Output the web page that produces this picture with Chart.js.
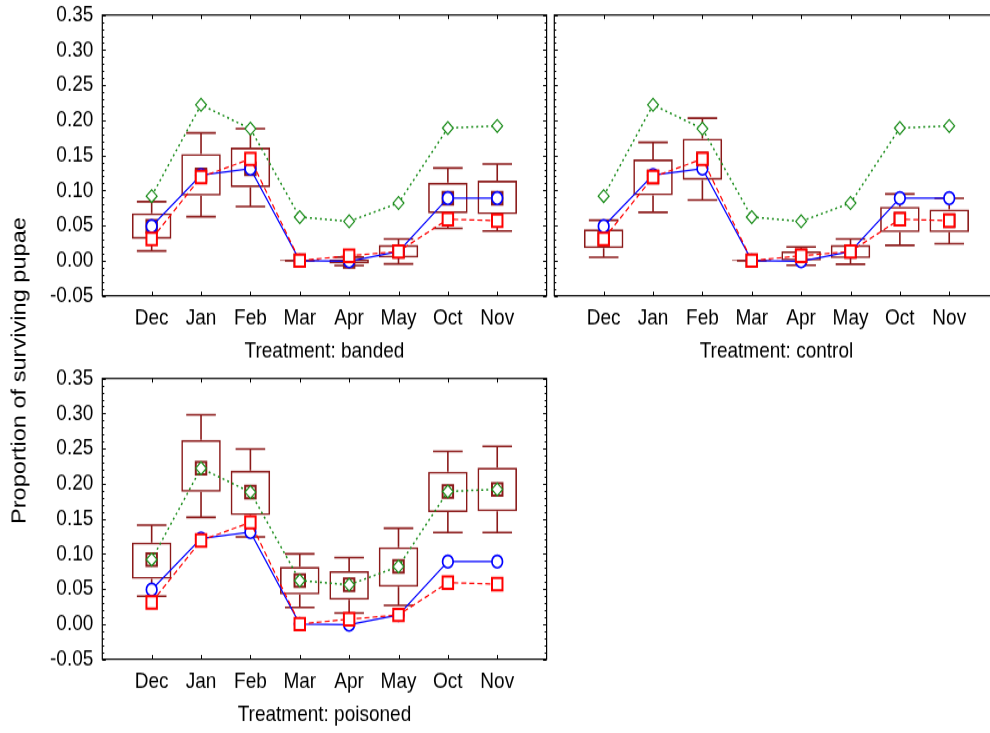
<!DOCTYPE html>
<html>
<head>
<meta charset="utf-8">
<script src="https://cdn.jsdelivr.net/npm/chart.js@4.4.1/dist/chart.umd.min.js"></script>
<style>
  html, body { margin: 0; padding: 0; background: #fff; overflow: hidden; width: 990px; height: 733px; }
  #fig { position: absolute; left: 0; top: 0; width: 990px; height: 621.2px; transform: scaleY(1.18); transform-origin: 0 0; }
  #fig canvas { position: absolute; }
  #ytitle {
    position: absolute; left: 18.5px; top: 313.5px;
    transform: translate(-50%, -50%) rotate(-90deg);
    font: 20px "Liberation Sans", Arial, sans-serif; color: #000; white-space: nowrap;
  }
</style>
</head>
<body>
<div id="fig">
  <canvas id="c1" width="556" height="310" style="left:0px;top:0px"></canvas>
  <canvas id="c2" width="556" height="310" style="left:452px;top:0px"></canvas>
  <canvas id="c3" width="556" height="310" style="left:0px;top:307.9px"></canvas>
  <div id="ytitle">Proportion of surviving pupae</div>
</div>
<script>
// Months sampled
const months = ['Dec', 'Jan', 'Feb', 'Mar', 'Apr', 'May', 'Oct', 'Nov'];

// Mean proportion of surviving pupae per treatment
const bandedMean   = [0.049, 0.122, 0.131, 0.000, -0.001, 0.013, 0.089, 0.089];
const controlMean  = [0.031, 0.119, 0.145, 0.000, 0.007, 0.013, 0.059, 0.057];
const poisonedMean = [0.092, 0.222, 0.188, 0.062, 0.056, 0.082, 0.189, 0.192];

// Banded: box (mean ± SE) and whiskers (mean ± 1.96 SE)
const bandedBoxLow    = [0.031, 0.0925, 0.1045, 0.000, -0.004, 0.0043, 0.0675, 0.066];
const bandedBoxHigh   = [0.0675, 0.152, 0.161, 0.000, 0.002, 0.0223, 0.111, 0.114];
const bandedWhiskLow  = [0.0138, 0.0626, 0.077, 0.000, -0.007, -0.0047, 0.046, 0.0423];
const bandedWhiskHigh = [0.084, 0.182, 0.188, 0.000, 0.005, 0.031, 0.132, 0.1377];

// Control
const controlBoxLow    = [0.0177, 0.093, 0.115, 0.000, 0.000, 0.0034, 0.0404, 0.0404];
const controlBoxHigh   = [0.0447, 0.1443, 0.174, 0.000, 0.0134, 0.0223, 0.0769, 0.073];
const controlWhiskLow  = [0.0048, 0.0689, 0.0864, 0.000, -0.0066, -0.005, 0.0219, 0.0242];
const controlWhiskHigh = [0.0575, 0.1685, 0.203, 0.000, 0.0195, 0.031, 0.095, 0.089];

// Poisoned
const poisonedBoxLow    = [0.0645, 0.1883, 0.1551, 0.0422, 0.0346, 0.0531, 0.1593, 0.1608];
const poisonedBoxHigh   = [0.1162, 0.2623, 0.2186, 0.0816, 0.0754, 0.1096, 0.2172, 0.2229];
const poisonedWhiskLow  = [0.0398, 0.1522, 0.1243, 0.0237, 0.0157, 0.0266, 0.1304, 0.1304];
const poisonedWhiskHigh = [0.1409, 0.2983, 0.2495, 0.1001, 0.0948, 0.1366, 0.2461, 0.2532];

const DARKRED = '#8b1a1a';
const BLUE = '#0000ff';
const RED = '#ff0000';
const GREEN = '#1a8c1a';

Chart.defaults.font.family = '"Liberation Sans", Arial, sans-serif';
Chart.defaults.color = '#000';

const pts = arr => arr.map((v, i) => ({ x: i, y: v }));

function drawPanel(id, title, mean, boxLow, boxHigh, whiskLow, whiskHigh, showYLabels) {
  // whiskers below the boxes, frame with inward ticks on top
  const decor = {
    id: 'decor',
    beforeDatasetsDraw(chart) {
      const { ctx } = chart;
      const xs = chart.scales.x, ys = chart.scales.y;
      ctx.save();
      ctx.strokeStyle = DARKRED;
      ctx.lineWidth = 1.6;
      months.forEach((m, i) => {
        const px = xs.getPixelForValue(i);
        const half = xs.getPixelForValue(i + 0.3) - px;
        ctx.beginPath();
        [[boxHigh[i], whiskHigh[i]], [boxLow[i], whiskLow[i]]].forEach(([a, b]) => {
          ctx.moveTo(px, ys.getPixelForValue(a));
          ctx.lineTo(px, ys.getPixelForValue(b));
          ctx.moveTo(px - half, ys.getPixelForValue(b));
          ctx.lineTo(px + half, ys.getPixelForValue(b));
        });
        ctx.stroke();
      });
      ctx.restore();
    },
    afterDatasetsDraw(chart) {
      const { ctx, chartArea: { left, right, top, bottom } } = chart;
      const xs = chart.scales.x, ys = chart.scales.y;
      ctx.save();
      ctx.strokeStyle = '#000';
      ctx.lineWidth = 1.2;
      ctx.strokeRect(left, top, right - left, bottom - top);
      ctx.lineWidth = 1;
      ctx.beginPath();
      for (let k = 0; k <= 40; k++) {
        const py = Math.round(ys.getPixelForValue(ys.min + k * 0.01)) + 0.5;
        const len = k % 5 === 0 ? 3.5 : 2;
        ctx.moveTo(left, py); ctx.lineTo(left + len, py);
        ctx.moveTo(right, py); ctx.lineTo(right - len, py);
      }
      months.forEach((m, i) => {
        const px = Math.round(xs.getPixelForValue(i)) + 0.5;
        ctx.moveTo(px, bottom); ctx.lineTo(px, bottom - 3.5);
        ctx.moveTo(px, top); ctx.lineTo(px, top + 3.5);
      });
      ctx.stroke();
      ctx.restore();
    }
  };

  new Chart(document.getElementById(id), {
    type: 'bar',
    data: {
      datasets: [
        { type: 'line', label: 'control', data: pts(controlMean), borderColor: RED, borderWidth: 1.2,
          borderDash: [5, 3], pointStyle: 'rect', pointRadius: 7.4, pointBorderWidth: 2,
          pointBorderColor: RED, pointBackgroundColor: '#fff', order: 0 },
        { type: 'line', label: 'banded', data: pts(bandedMean), borderColor: BLUE, borderWidth: 1.2,
          pointStyle: 'circle', pointRadius: 5.3, pointBorderWidth: 1.7,
          pointBorderColor: BLUE, pointBackgroundColor: '#fff', order: 1 },
        { type: 'line', label: 'poisoned', data: pts(poisonedMean), borderColor: GREEN, borderWidth: 1.5,
          borderDash: [2, 3], pointStyle: 'rectRot', pointRadius: 5.4, pointBorderWidth: 1.2,
          pointBorderColor: GREEN, pointBackgroundColor: '#fff', order: 2 },
        { type: 'line', label: 'mean', data: pts(mean), showLine: false, pointStyle: 'rect',
          pointRadius: 7.4, pointBorderWidth: 2, pointBorderColor: DARKRED,
          pointBackgroundColor: 'rgba(0,0,0,0)', order: 3 },
        { type: 'bar', label: 'mean ± SE', data: months.map((m, i) => ({ x: i, y: [boxLow[i], boxHigh[i]] })),
          backgroundColor: 'rgba(0,0,0,0)', borderColor: DARKRED, borderWidth: 1.6, borderSkipped: false,
          barPercentage: 0.8, categoryPercentage: 1, minBarLength: 1, order: 4 }
      ]
    },
    options: {
      responsive: false,
      animation: false,
      devicePixelRatio: 1,
      layout: { padding: { left: 0, right: 4, top: 12.7, bottom: 0 } },
      plugins: { legend: { display: false }, tooltip: { enabled: false } },
      scales: {
        x: {
          type: 'linear', min: -1, max: 8, offset: false,
          grid: { display: false, drawTicks: false }, border: { display: false },
          ticks: { stepSize: 1, autoSkip: false, maxRotation: 0, padding: 8,
                   font: { size: 19 }, color: '#000', callback: v => months[v] ?? '' },
          title: { display: true, text: title, font: { size: 19 }, color: '#000',
                   padding: { top: 0, bottom: 0.6 } },
          afterFit: s => { s.height = 59.4; s.paddingLeft = 0; s.paddingRight = 0; }
        },
        y: {
          min: -0.05, max: 0.35,
          grid: { display: false, drawTicks: false }, border: { display: false },
          ticks: { stepSize: 0.05, padding: 9, display: showYLabels, font: { size: 19 }, color: '#000',
                   callback: v => (Math.abs(v) < 1e-9 ? 0 : v).toFixed(2) },
          afterFit: s => { s.width = 102.3; s.paddingTop = 0; s.paddingBottom = 0; }
        }
      }
    },
    plugins: [decor]
  });
}

drawPanel('c1', 'Treatment: banded', bandedMean,
  bandedBoxLow, bandedBoxHigh, bandedWhiskLow, bandedWhiskHigh, true);
drawPanel('c2', 'Treatment: control', controlMean,
  controlBoxLow, controlBoxHigh, controlWhiskLow, controlWhiskHigh, false);
drawPanel('c3', 'Treatment: poisoned', poisonedMean,
  poisonedBoxLow, poisonedBoxHigh, poisonedWhiskLow, poisonedWhiskHigh, true);
</script>
</body>
</html>
